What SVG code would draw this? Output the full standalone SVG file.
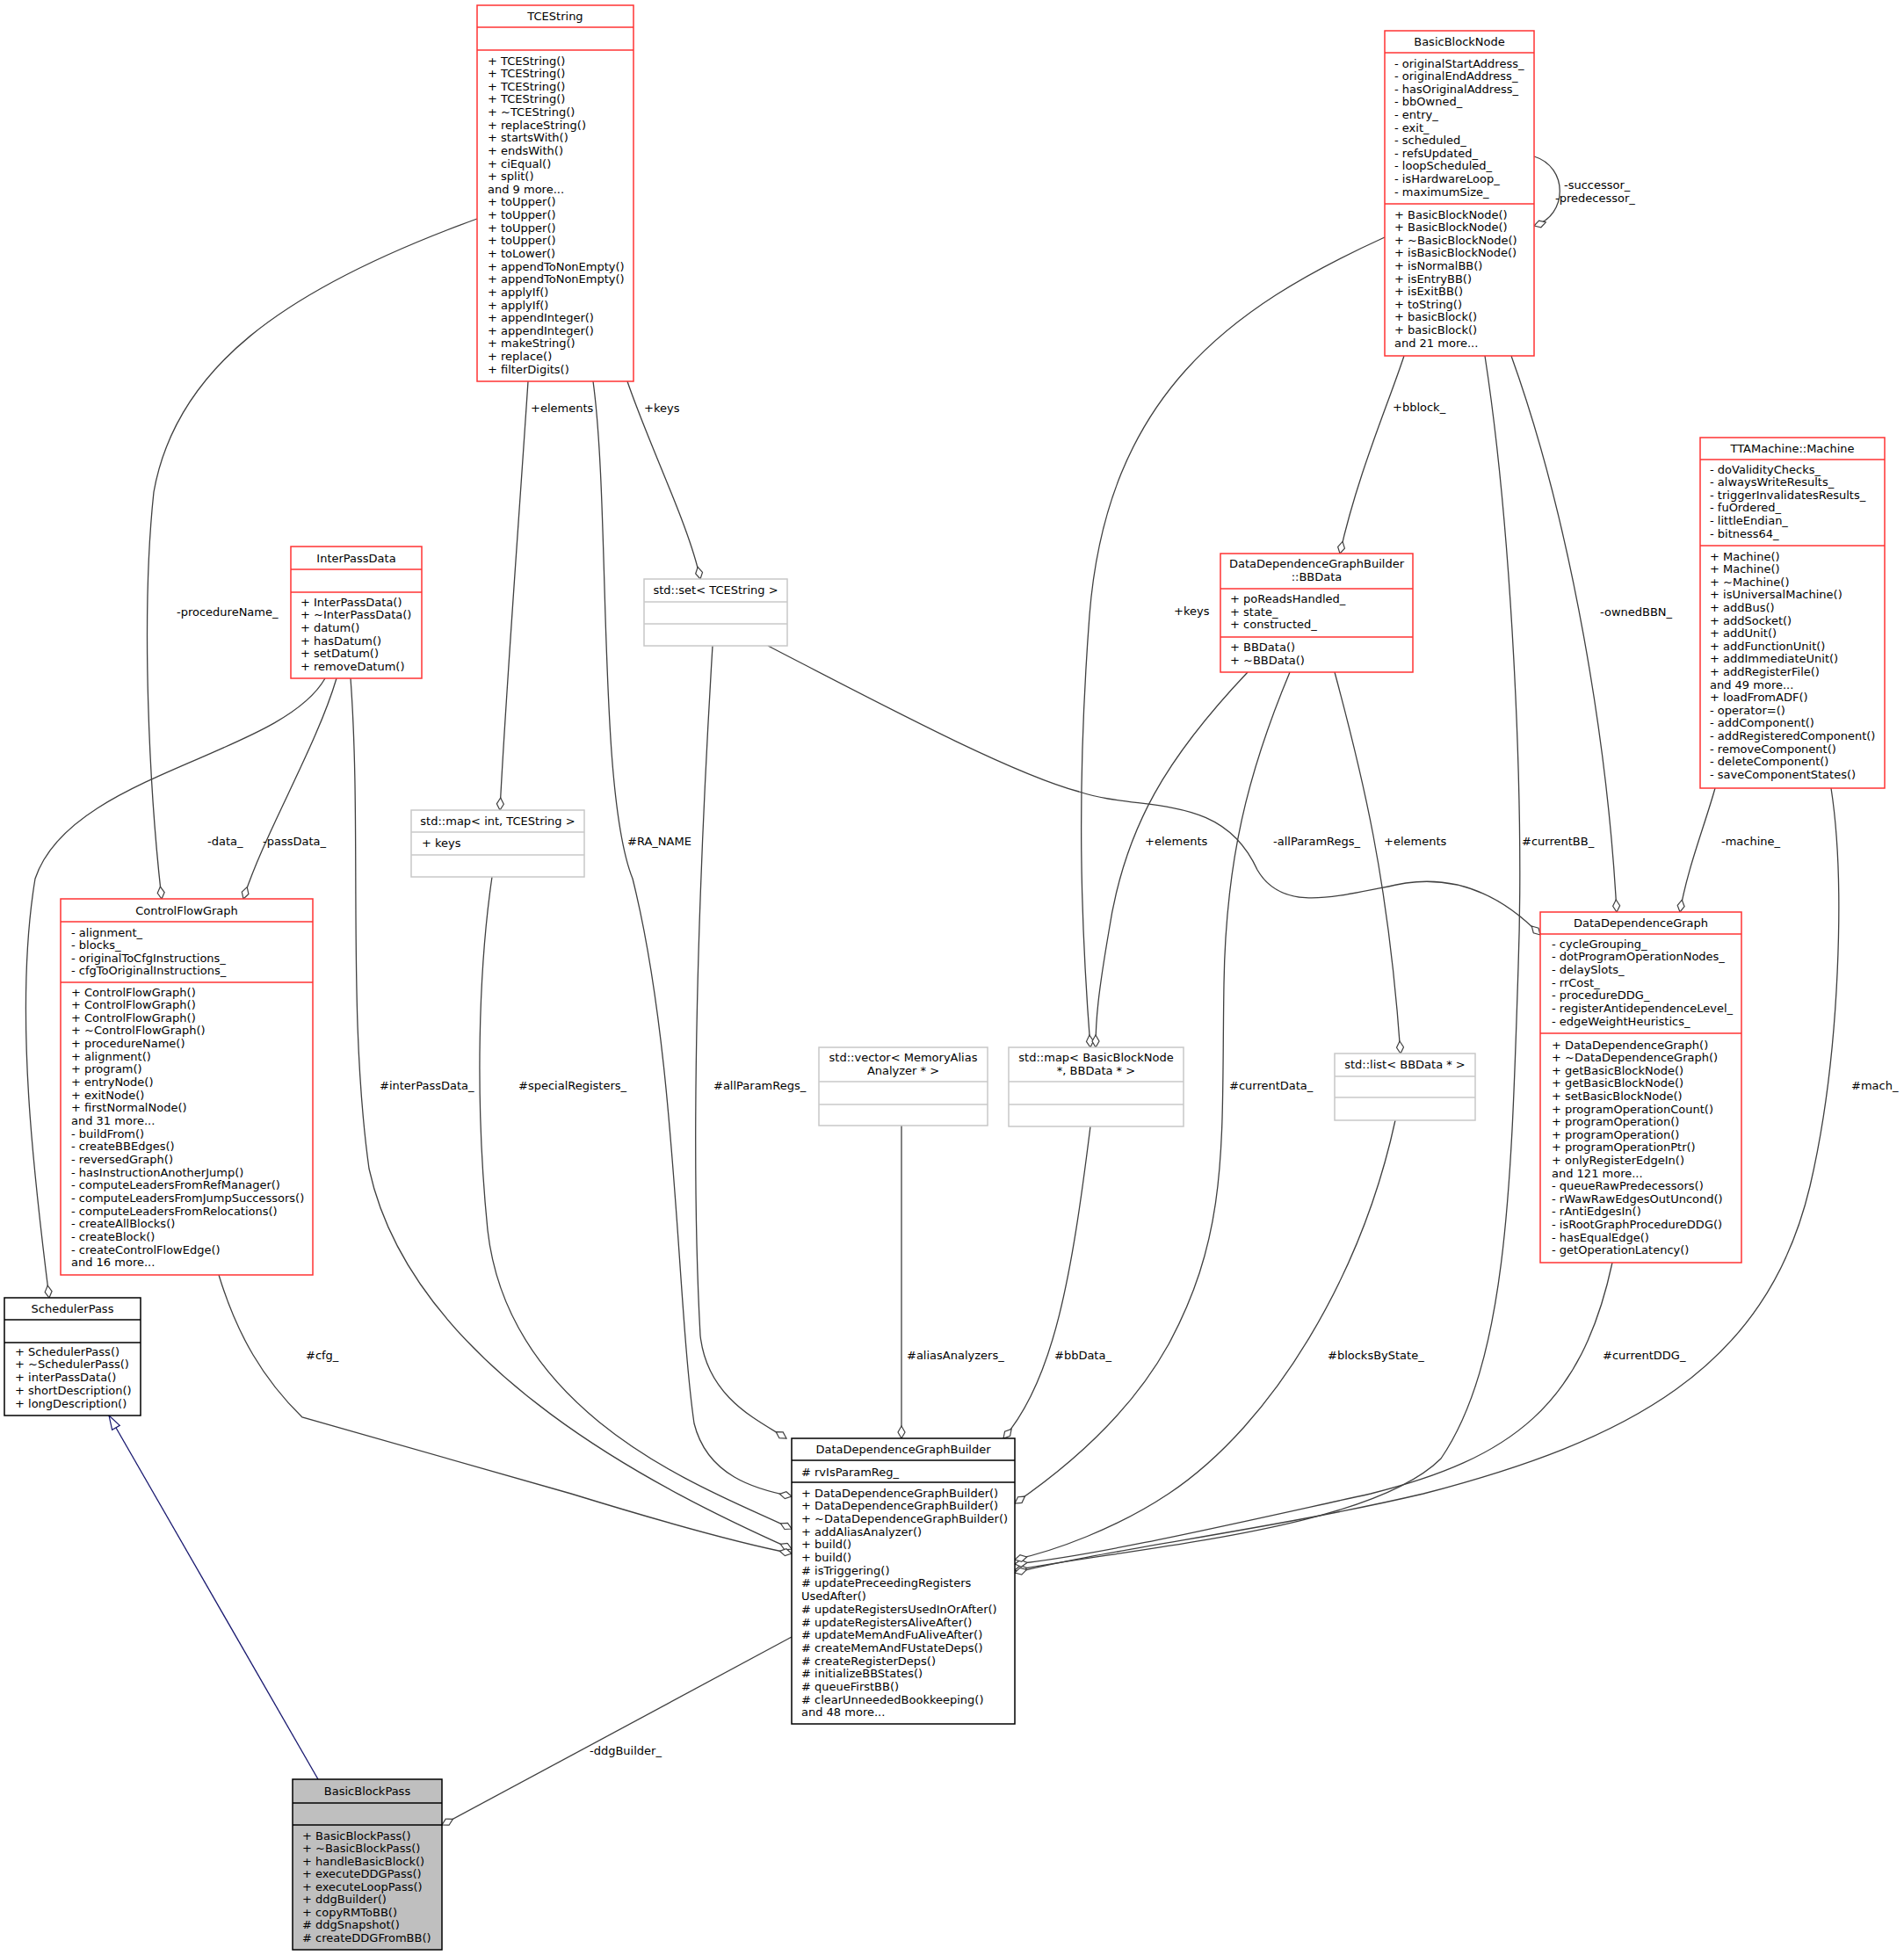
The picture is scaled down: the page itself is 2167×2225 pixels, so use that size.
<svg xmlns="http://www.w3.org/2000/svg" width="2167" height="2225" viewBox="0 0 2167 2225">
<style>
text{font-family:"DejaVu Sans","Liberation Sans",sans-serif;font-size:13px;fill:#000}
.t{text-anchor:middle}
.r{fill:#fff;stroke:#f33;stroke-width:1.5}
.k{fill:#fff;stroke:#000;stroke-width:1.5}
.g{fill:#fff;stroke:#c8c8c8;stroke-width:1.5}
.rl{stroke:#f33;stroke-width:1.5}
.kl{stroke:#000;stroke-width:1.5}
.gl{stroke:#c8c8c8;stroke-width:1.5}
.e{fill:none;stroke:#404040;stroke-width:1.3}
</style>
<defs>
<marker id="d" markerUnits="userSpaceOnUse" markerWidth="16" markerHeight="10" refX="15" refY="5" orient="auto" viewBox="0 0 16 10"><path d="M1,5 L8,1 L15,5 L8,9 Z" fill="#fff" stroke="#404040" stroke-width="1.2"/></marker>
<marker id="tri" markerUnits="userSpaceOnUse" markerWidth="18" markerHeight="12" refX="17" refY="6" orient="auto" viewBox="0 0 18 12"><path d="M1,1 L17,6 L1,11 Z" fill="#fff" stroke="#191970" stroke-width="1.2"/></marker>
</defs>
<rect width="2167" height="2225" fill="#fff"/>
<g id="edges">
<path class="e" marker-end="url(#d)" d="M543,249 C320,330 200,420 175,560 C160,700 170,900 184,1023"/>
<path class="e" marker-end="url(#d)" d="M370,772 C320,860 80,880 40,1000 C15,1150 40,1350 56,1477"/>
<path class="e" marker-end="url(#d)" d="M383,772 C360,850 300,950 277,1023"/>
<path class="e" marker-end="url(#d)" d="M399,772 C412,950 395,1150 420,1330 C470,1560 760,1700 901,1763"/>
<path class="e" marker-end="url(#d)" d="M601,434 C590,600 575,800 569,922"/>
<path class="e" marker-end="url(#d)" d="M675,434 C695,580 680,900 720,1000 C770,1200 770,1480 790,1620 C805,1680 860,1695 901,1703"/>
<path class="e" marker-end="url(#d)" d="M714,434 C740,510 785,600 797,659"/>
<path class="e" marker-end="url(#d)" d="M811,735 C795,1000 785,1300 797,1520 C805,1590 860,1615 895,1637"/>
<path class="e" marker-end="url(#d)" d="M874,735 C1000,800 1150,880 1228,901 C1300,925 1390,900 1431,990 C1460,1040 1520,1020 1600,1005 C1670,995 1720,1030 1753,1064"/>
<path class="e" marker-end="url(#d)" d="M560,998 C545,1100 540,1250 555,1400 C580,1620 820,1700 901,1740"/>
<path class="e" marker-end="url(#d)" d="M1576,270 C1400,350 1260,450 1240,700 C1225,900 1230,1050 1241,1192"/>
<path class="e" marker-end="url(#d)" d="M1420,765 C1330,860 1280,940 1262,1060 C1250,1130 1247,1160 1247,1192"/>
<path class="e" marker-end="url(#d)" d="M1468,765 C1420,880 1395,980 1393,1120 C1390,1300 1400,1400 1330,1530 C1280,1620 1200,1680 1155,1711"/>
<path class="e" marker-end="url(#d)" d="M1519,765 C1550,880 1580,1000 1594,1199"/>
<path class="e" marker-end="url(#d)" d="M1598,405 C1580,460 1545,540 1525,630"/>
<path class="e" marker-end="url(#d)" d="M1690,405 C1720,600 1735,900 1728,1100 C1720,1350 1715,1550 1640,1660 C1560,1740 1300,1760 1155,1787"/>
<path class="e" marker-end="url(#d)" d="M1720,405 C1790,600 1830,850 1840,1038"/>
<path class="e" marker-end="url(#d)" d="M1952,897 C1940,940 1920,990 1912,1038"/>
<path class="e" marker-end="url(#d)" d="M2084,897 C2100,1000 2095,1200 2060,1350 C2010,1560 1850,1640 1620,1700 C1450,1740 1250,1765 1155,1790"/>
<path class="e" marker-end="url(#d)" d="M1835,1437 C1800,1600 1720,1660 1560,1700 C1400,1735 1250,1770 1155,1780"/>
<path class="e" marker-end="url(#d)" d="M1588,1275 C1550,1450 1450,1620 1330,1700 C1270,1740 1200,1765 1155,1775"/>
<path class="e" marker-end="url(#d)" d="M1241,1282 C1220,1450 1200,1570 1142,1637"/>
<path class="e" marker-end="url(#d)" d="M1026,1281 L1026,1637"/>
<path class="e" marker-end="url(#d)" d="M249,1451 C270,1520 300,1570 344,1613 L650,1700 C780,1740 860,1760 901,1768"/>
<path class="e" marker-end="url(#d)" d="M901,1863 L503,2077"/>
<path fill="none" stroke="#191970" stroke-width="1.3" marker-end="url(#tri)" d="M362,2025 L124,1611"/>
<path class="e" marker-end="url(#d)" d="M1746,178 C1785,190 1785,245 1746,257"/>
<text x="201" y="701">-procedureName_</text>
<text x="604" y="469">+elements</text>
<text x="733" y="469">+keys</text>
<text x="1780" y="215">-successor_</text>
<text x="1770" y="230">-predecessor_</text>
<text x="1585" y="468">+bblock_</text>
<text x="1821" y="701">-ownedBBN_</text>
<text x="1336" y="700">+keys</text>
<text x="236" y="962">-data_</text>
<text x="299" y="962">-passData_</text>
<text x="714" y="962">#RA_NAME</text>
<text x="1303" y="962">+elements</text>
<text x="1449" y="962">-allParamRegs_</text>
<text x="1575" y="962">+elements</text>
<text x="1732" y="962">#currentBB_</text>
<text x="1959" y="962">-machine_</text>
<text x="432" y="1240">#interPassData_</text>
<text x="590" y="1240">#specialRegisters_</text>
<text x="812" y="1240">#allParamRegs_</text>
<text x="1399" y="1240">#currentData_</text>
<text x="2107" y="1240">#mach_</text>
<text x="348" y="1547">#cfg_</text>
<text x="1032" y="1547">#aliasAnalyzers_</text>
<text x="1200" y="1547">#bbData_</text>
<text x="1511" y="1547">#blocksByState_</text>
<text x="1824" y="1547">#currentDDG_</text>
<text x="671" y="1997">-ddgBuilder_</text>
</g>
<g id="TCEString">
<rect class="r" x="543" y="6" width="178" height="428"/>
<line class="rl" x1="543" y1="31" x2="721" y2="31"/><line class="rl" x1="543" y1="57" x2="721" y2="57"/>
<text class="t" x="632" y="23">TCEString</text>
<text x="555" y="73.5">+ TCEString()</text><text x="555" y="88.1">+ TCEString()</text><text x="555" y="102.8">+ TCEString()</text><text x="555" y="117.4">+ TCEString()</text><text x="555" y="132">+ ~TCEString()</text><text x="555" y="146.7">+ replaceString()</text><text x="555" y="161.3">+ startsWith()</text><text x="555" y="175.9">+ endsWith()</text><text x="555" y="190.5">+ ciEqual()</text><text x="555" y="205.2">+ split()</text><text x="555" y="219.8">and 9 more...</text><text x="555" y="234.4">+ toUpper()</text><text x="555" y="249.1">+ toUpper()</text><text x="555" y="263.7">+ toUpper()</text><text x="555" y="278.3">+ toUpper()</text><text x="555" y="293">+ toLower()</text><text x="555" y="307.6">+ appendToNonEmpty()</text><text x="555" y="322.2">+ appendToNonEmpty()</text><text x="555" y="336.8">+ applyIf()</text><text x="555" y="351.5">+ applyIf()</text><text x="555" y="366.1">+ appendInteger()</text><text x="555" y="380.7">+ appendInteger()</text><text x="555" y="395.4">+ makeString()</text><text x="555" y="410">+ replace()</text><text x="555" y="424.6">+ filterDigits()</text>
</g>
<g id="InterPassData">
<rect class="r" x="331" y="622" width="149" height="150"/>
<line class="rl" x1="331" y1="648" x2="480" y2="648"/><line class="rl" x1="331" y1="674" x2="480" y2="674"/>
<text class="t" x="405.5" y="639.5">InterPassData</text>
<text x="342" y="689.5">+ InterPassData()</text><text x="342" y="704.2">+ ~InterPassData()</text><text x="342" y="718.9">+ datum()</text><text x="342" y="733.6">+ hasDatum()</text><text x="342" y="748.3">+ setDatum()</text><text x="342" y="763">+ removeDatum()</text>
</g>
<g id="BasicBlockNode">
<rect class="r" x="1576" y="35" width="170" height="370"/>
<line class="rl" x1="1576" y1="60" x2="1746" y2="60"/><line class="rl" x1="1576" y1="232" x2="1746" y2="232"/>
<text class="t" x="1661" y="52">BasicBlockNode</text>
<text x="1587" y="76.5">- originalStartAddress_</text><text x="1587" y="91.1">- originalEndAddress_</text><text x="1587" y="105.7">- hasOriginalAddress_</text><text x="1587" y="120.3">- bbOwned_</text><text x="1587" y="134.9">- entry_</text><text x="1587" y="149.5">- exit_</text><text x="1587" y="164.1">- scheduled_</text><text x="1587" y="178.7">- refsUpdated_</text><text x="1587" y="193.3">- loopScheduled_</text><text x="1587" y="207.9">- isHardwareLoop_</text><text x="1587" y="222.5">- maximumSize_</text>
<text x="1587" y="248.5">+ BasicBlockNode()</text><text x="1587" y="263.1">+ BasicBlockNode()</text><text x="1587" y="277.7">+ ~BasicBlockNode()</text><text x="1587" y="292.3">+ isBasicBlockNode()</text><text x="1587" y="306.9">+ isNormalBB()</text><text x="1587" y="321.5">+ isEntryBB()</text><text x="1587" y="336.1">+ isExitBB()</text><text x="1587" y="350.7">+ toString()</text><text x="1587" y="365.3">+ basicBlock()</text><text x="1587" y="379.9">+ basicBlock()</text><text x="1587" y="394.5">and 21 more...</text>
</g>
<g id="BBData">
<rect class="r" x="1389" y="630" width="219" height="135"/>
<line class="rl" x1="1389" y1="670" x2="1608" y2="670"/><line class="rl" x1="1389" y1="725" x2="1608" y2="725"/>
<text class="t" x="1498.5" y="645.5">DataDependenceGraphBuilder</text><text class="t" x="1498.5" y="661">::BBData</text>
<text x="1400" y="685.5">+ poReadsHandled_</text><text x="1400" y="700.5">+ state_</text><text x="1400" y="715">+ constructed_</text>
<text x="1400" y="740.5">+ BBData()</text><text x="1400" y="755.5">+ ~BBData()</text>
</g>
<g id="Machine">
<rect class="r" x="1935" y="498" width="210" height="399"/>
<line class="rl" x1="1935" y1="523" x2="2145" y2="523"/><line class="rl" x1="1935" y1="621" x2="2145" y2="621"/>
<text class="t" x="2040" y="515">TTAMachine::Machine</text>
<text x="1946" y="538.5">- doValidityChecks_</text><text x="1946" y="553.1">- alwaysWriteResults_</text><text x="1946" y="567.7">- triggerInvalidatesResults_</text><text x="1946" y="582.3">- fuOrdered_</text><text x="1946" y="596.9">- littleEndian_</text><text x="1946" y="611.5">- bitness64_</text>
<text x="1946" y="637.5">+ Machine()</text><text x="1946" y="652.1">+ Machine()</text><text x="1946" y="666.7">+ ~Machine()</text><text x="1946" y="681.3">+ isUniversalMachine()</text><text x="1946" y="695.9">+ addBus()</text><text x="1946" y="710.5">+ addSocket()</text><text x="1946" y="725.1">+ addUnit()</text><text x="1946" y="739.7">+ addFunctionUnit()</text><text x="1946" y="754.3">+ addImmediateUnit()</text><text x="1946" y="768.9">+ addRegisterFile()</text><text x="1946" y="783.5">and 49 more...</text><text x="1946" y="798.1">+ loadFromADF()</text><text x="1946" y="812.7">- operator=()</text><text x="1946" y="827.3">- addComponent()</text><text x="1946" y="841.9">- addRegisteredComponent()</text><text x="1946" y="856.5">- removeComponent()</text><text x="1946" y="871.1">- deleteComponent()</text><text x="1946" y="885.7">- saveComponentStates()</text>
</g>
<g id="ControlFlowGraph">
<rect class="r" x="69" y="1023" width="287" height="428"/>
<line class="rl" x1="69" y1="1049" x2="356" y2="1049"/><line class="rl" x1="69" y1="1118" x2="356" y2="1118"/>
<text class="t" x="212.5" y="1040.5">ControlFlowGraph</text>
<text x="81" y="1065.5">- alignment_</text><text x="81" y="1080">- blocks_</text><text x="81" y="1094.5">- originalToCfgInstructions_</text><text x="81" y="1109">- cfgToOriginalInstructions_</text>
<text x="81" y="1133.5">+ ControlFlowGraph()</text><text x="81" y="1148.1">+ ControlFlowGraph()</text><text x="81" y="1162.8">+ ControlFlowGraph()</text><text x="81" y="1177.4">+ ~ControlFlowGraph()</text><text x="81" y="1192.1">+ procedureName()</text><text x="81" y="1206.7">+ alignment()</text><text x="81" y="1221.4">+ program()</text><text x="81" y="1236">+ entryNode()</text><text x="81" y="1250.7">+ exitNode()</text><text x="81" y="1265.3">+ firstNormalNode()</text><text x="81" y="1280">and 31 more...</text><text x="81" y="1294.6">- buildFrom()</text><text x="81" y="1309.3">- createBBEdges()</text><text x="81" y="1323.9">- reversedGraph()</text><text x="81" y="1338.6">- hasInstructionAnotherJump()</text><text x="81" y="1353.2">- computeLeadersFromRefManager()</text><text x="81" y="1367.9">- computeLeadersFromJumpSuccessors()</text><text x="81" y="1382.5">- computeLeadersFromRelocations()</text><text x="81" y="1397.2">- createAllBlocks()</text><text x="81" y="1411.8">- createBlock()</text><text x="81" y="1426.5">- createControlFlowEdge()</text><text x="81" y="1441.1">and 16 more...</text>
</g>
<g id="SchedulerPass">
<rect class="k" x="5" y="1477" width="155" height="134"/>
<line class="kl" x1="5" y1="1502" x2="160" y2="1502"/><line class="kl" x1="5" y1="1528" x2="160" y2="1528"/>
<text class="t" x="82.5" y="1494">SchedulerPass</text>
<text x="17" y="1542.5">+ SchedulerPass()</text><text x="17" y="1557.3">+ ~SchedulerPass()</text><text x="17" y="1572">+ interPassData()</text><text x="17" y="1586.8">+ shortDescription()</text><text x="17" y="1601.5">+ longDescription()</text>
</g>
<g id="DataDependenceGraphBuilder">
<rect class="k" x="901" y="1637" width="254" height="325"/>
<line class="kl" x1="901" y1="1662" x2="1155" y2="1662"/><line class="kl" x1="901" y1="1687" x2="1155" y2="1687"/>
<text class="t" x="1028" y="1654">DataDependenceGraphBuilder</text>
<text x="912" y="1679.5"># rvIsParamReg_</text>
<text x="912" y="1703.5">+ DataDependenceGraphBuilder()</text><text x="912" y="1718.2">+ DataDependenceGraphBuilder()</text><text x="912" y="1732.9">+ ~DataDependenceGraphBuilder()</text><text x="912" y="1747.6">+ addAliasAnalyzer()</text><text x="912" y="1762.3">+ build()</text><text x="912" y="1777">+ build()</text><text x="912" y="1791.7"># isTriggering()</text><text x="912" y="1806.4"># updatePreceedingRegisters</text><text x="912" y="1821.1">UsedAfter()</text><text x="912" y="1835.8"># updateRegistersUsedInOrAfter()</text><text x="912" y="1850.5"># updateRegistersAliveAfter()</text><text x="912" y="1865.2"># updateMemAndFuAliveAfter()</text><text x="912" y="1879.9"># createMemAndFUstateDeps()</text><text x="912" y="1894.6"># createRegisterDeps()</text><text x="912" y="1909.3"># initializeBBStates()</text><text x="912" y="1924"># queueFirstBB()</text><text x="912" y="1938.7"># clearUnneededBookkeeping()</text><text x="912" y="1953.4">and 48 more...</text>
</g>
<g id="DataDependenceGraph">
<rect class="r" x="1753" y="1038" width="229" height="399"/>
<line class="rl" x1="1753" y1="1063" x2="1982" y2="1063"/><line class="rl" x1="1753" y1="1176" x2="1982" y2="1176"/>
<text class="t" x="1867.5" y="1055">DataDependenceGraph</text>
<text x="1766" y="1078.5">- cycleGrouping_</text><text x="1766" y="1093.2">- dotProgramOperationNodes_</text><text x="1766" y="1107.9">- delaySlots_</text><text x="1766" y="1122.6">- rrCost_</text><text x="1766" y="1137.3">- procedureDDG_</text><text x="1766" y="1152">- registerAntidependenceLevel_</text><text x="1766" y="1166.7">- edgeWeightHeuristics_</text>
<text x="1766" y="1193.5">+ DataDependenceGraph()</text><text x="1766" y="1208.1">+ ~DataDependenceGraph()</text><text x="1766" y="1222.7">+ getBasicBlockNode()</text><text x="1766" y="1237.3">+ getBasicBlockNode()</text><text x="1766" y="1251.9">+ setBasicBlockNode()</text><text x="1766" y="1266.5">+ programOperationCount()</text><text x="1766" y="1281.1">+ programOperation()</text><text x="1766" y="1295.7">+ programOperation()</text><text x="1766" y="1310.3">+ programOperationPtr()</text><text x="1766" y="1324.9">+ onlyRegisterEdgeIn()</text><text x="1766" y="1339.5">and 121 more...</text><text x="1766" y="1354.1">- queueRawPredecessors()</text><text x="1766" y="1368.7">- rWawRawEdgesOutUncond()</text><text x="1766" y="1383.3">- rAntiEdgesIn()</text><text x="1766" y="1397.9">- isRootGraphProcedureDDG()</text><text x="1766" y="1412.5">- hasEqualEdge()</text><text x="1766" y="1427.1">- getOperationLatency()</text>
</g>
<g id="BasicBlockPass">
<rect x="333" y="2025" width="170" height="194" fill="#bfbfbf" stroke="#000" stroke-width="1.5"/>
<line class="kl" x1="333" y1="2052" x2="503" y2="2052"/><line class="kl" x1="333" y1="2077" x2="503" y2="2077"/>
<text class="t" x="418" y="2043">BasicBlockPass</text>
<text x="344" y="2093.5">+ BasicBlockPass()</text><text x="344" y="2108">+ ~BasicBlockPass()</text><text x="344" y="2122.5">+ handleBasicBlock()</text><text x="344" y="2137">+ executeDDGPass()</text><text x="344" y="2151.5">+ executeLoopPass()</text><text x="344" y="2166">+ ddgBuilder()</text><text x="344" y="2180.5">+ copyRMToBB()</text><text x="344" y="2195"># ddgSnapshot()</text><text x="344" y="2209.5"># createDDGFromBB()</text>
</g>
<g id="set_TCEString">
<rect class="g" x="733" y="659" width="163" height="76"/>
<line class="gl" x1="733" y1="685" x2="896" y2="685"/><line class="gl" x1="733" y1="710" x2="896" y2="710"/>
<text class="t" x="814.5" y="676">std::set&lt; TCEString &gt;</text>
</g>
<g id="map_int_TCEString">
<rect class="g" x="468" y="922" width="197" height="76"/>
<line class="gl" x1="468" y1="947" x2="665" y2="947"/><line class="gl" x1="468" y1="973" x2="665" y2="973"/>
<text class="t" x="566.5" y="939">std::map&lt; int, TCEString &gt;</text>
<text x="480" y="964">+ keys</text>
</g>
<g id="vector_MemoryAliasAnalyzer">
<rect class="g" x="932" y="1192" width="192" height="89"/>
<line class="gl" x1="932" y1="1231" x2="1124" y2="1231"/><line class="gl" x1="932" y1="1257" x2="1124" y2="1257"/>
<text class="t" x="1028" y="1207.5">std::vector&lt; MemoryAlias</text><text class="t" x="1028" y="1222.5">Analyzer * &gt;</text>
</g>
<g id="map_BasicBlockNode_BBData">
<rect class="g" x="1148" y="1192" width="199" height="90"/>
<line class="gl" x1="1148" y1="1231" x2="1347" y2="1231"/><line class="gl" x1="1148" y1="1257" x2="1347" y2="1257"/>
<text class="t" x="1247.5" y="1207.5">std::map&lt; BasicBlockNode</text><text class="t" x="1247.5" y="1222.5">*, BBData * &gt;</text>
</g>
<g id="list_BBData">
<rect class="g" x="1519" y="1199" width="160" height="76"/>
<line class="gl" x1="1519" y1="1225" x2="1679" y2="1225"/><line class="gl" x1="1519" y1="1249" x2="1679" y2="1249"/>
<text class="t" x="1599" y="1216">std::list&lt; BBData * &gt;</text>
</g>
</svg>
